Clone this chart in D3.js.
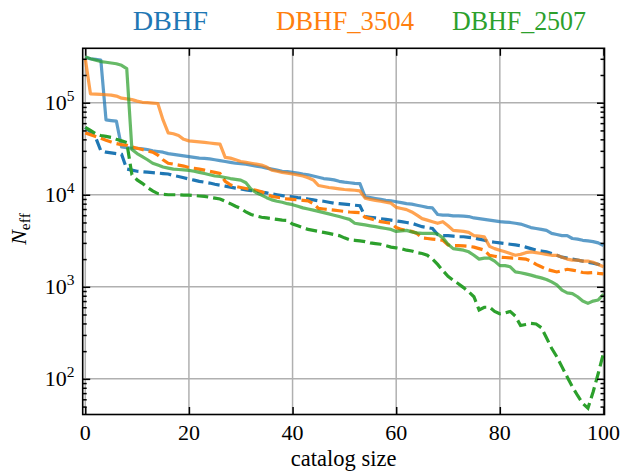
<!DOCTYPE html>
<html><head><meta charset="utf-8">
<script src="https://cdn.jsdelivr.net/npm/d3@7"></script>
<style>body{margin:0;background:#fff} svg{display:block} svg text{font-family:"Liberation Serif", monospace;}</style>
</head><body>
<svg id="c" width="621" height="473"></svg>
<script>
// ---- data ----
const catalogSize = d3.range(0, 101);
const seriesNames = ["DBHF", "DBHF_3504", "DBHF_2507"];
const seriesColors = ["#1f77b4", "#ff7f0e", "#2ca02c"];

const dbhfSolid = [310000,300000,295000,290000,65000,64000,63000,33000,32500,32000,
 32000,31500,31000,30000,29500,29000,28000,27500,27000,26500,
 26000,25500,25000,24800,24500,24000,23500,23000,22500,22000,
 21800,21500,21000,20500,20000,19500,19000,18500,18000,17800,
 17500,17200,16800,16500,16000,15500,15000,14800,14500,14000,
 13700,13500,13300,13200,9500,9300,9100,8900,8700,8600,
 8400,8200,8000,7900,7700,7500,7300,7200,6100,6000,
 6000,5900,5900,5850,5800,5600,5500,5400,5300,5200,
 5100,5050,5000,4900,4800,4600,4400,4300,4200,4100,
 3800,3700,3600,3600,3350,3300,3200,3150,3100,3000,2800];
const dbhfDashed = [54000,48000,42000,30000,29000,28500,28000,27500,19000,18500,
 18000,17800,17600,17400,17200,17000,16800,16200,15800,15300,
 14800,14400,14000,13700,13400,13000,12700,12400,12100,11800,
 11600,11300,11100,10900,10700,10500,10200,10000,9800,9600,
 9500,9300,9200,9000,8800,8600,8500,8300,8100,8000,
 7900,7800,7700,7600,5800,5700,5600,5500,5400,5300,
 5200,5100,5000,4900,4700,4500,4400,4300,3700,3600,
 3600,3550,3500,3500,3450,3400,3300,3200,3100,3050,
 3000,2950,2900,2850,2800,2700,2600,2500,2450,2400,
 2300,2200,2100,2050,2000,1950,1900,1850,1800,1750,1700];
const dbhf3504Solid = [300000,125000,124000,123000,122000,121000,118000,112000,110000,108000,
 104000,101000,100000,99000,98000,65000,47000,46000,44000,40000,
 38500,38000,37500,37000,36500,36000,35500,25500,25000,24000,
 23000,22500,22000,21500,21000,20000,18500,18000,17500,17200,
 16800,16400,16000,15300,14500,12600,12300,12000,11800,11600,
 11400,11300,11200,11000,9200,8900,8700,8500,8300,8100,
 7300,7100,6900,6500,6000,5500,5300,5100,4900,5100,
 4600,4100,4050,4000,3900,3600,3550,3500,2750,2600,
 2500,2400,2300,2200,2250,2350,2400,2350,2300,2250,
 2200,2200,2100,2000,1950,1950,1900,1900,1850,1750,1650];
const dbhf3504Dashed = [47000,45000,43000,41000,39000,37500,36000,35000,34500,33000,
 32000,31000,30000,29000,27000,24000,22000,21500,21000,20500,
 19800,19400,19000,18500,18000,17500,17000,14000,12800,12300,
 12000,11700,11400,11200,10800,10200,9600,9400,9200,9000,
 8900,8800,8700,8600,8000,7100,7000,6900,6800,6700,
 6600,6500,6450,6400,5700,5500,5300,5100,5000,4900,
 4400,4200,4100,4000,3800,3400,3350,3300,3250,3200,
 2850,2800,2800,2780,2750,2700,2600,2500,2200,2150,
 2100,2080,2060,2040,2020,2000,1900,1750,1650,1550,
 1500,1450,1500,1550,1520,1480,1430,1420,1430,1400,1380];
const dbhf2507Solid = [315000,300000,290000,280000,275000,270000,265000,255000,235000,31000,
 28000,26000,24000,22000,21000,20000,19500,19000,18800,18600,
 18400,18000,17500,17000,16500,16000,15800,15400,15000,14700,
 14400,13500,11500,10500,9900,9300,8800,8500,8300,8000,
 7800,7500,7200,7000,6800,6600,6400,6200,6000,5800,
 5600,5400,4900,4800,4700,4600,4500,4400,4300,4200,
 4000,4050,4100,3950,3850,3800,3800,3800,3750,3400,
 2900,2600,2550,2500,2400,2200,2000,2050,2050,1900,
 1700,1700,1650,1450,1420,1380,1340,1290,1250,1200,
 1130,1050,920,860,845,780,700,660,700,720,830];
const dbhf2507Dashed = [54000,50000,46000,44000,43000,42000,40000,38500,37000,16500,
 14500,13300,12000,11000,10300,10100,10000,10000,10000,9900,
 9900,9800,9700,9600,9400,9200,9000,8500,8000,7500,
 7100,6500,6100,5900,5700,5600,5500,5400,5300,5250,
 4800,4600,4400,4200,4100,4000,3900,3800,3700,3600,
 3400,3250,3200,3150,3100,3000,2950,2900,2800,2700,
 2650,2600,2500,2450,2350,2300,2200,2000,1750,1500,
 1300,1180,1080,980,880,780,560,600,600,540,
 510,520,540,480,380,390,400,395,360,280,
 215,174,135,105,82,66,54,48,72,115,190];

const solidSeries = [dbhfSolid, dbhf3504Solid, dbhf2507Solid];
const dashedSeries = [dbhfDashed, dbhf3504Dashed, dbhf2507Dashed];

const xTicks = [0, 20, 40, 60, 80, 100];
const yTicks = [1e2, 1e3, 1e4, 1e5];
const yTickExp = ["2", "3", "4", "5"];

// ---- layout ----
const L = 82.7, R = 604.5, T = 48.3, B = 414.5;
const svg = d3.select("#c");
const font = '"Liberation Serif", monospace';

const x = d3.scaleLinear().domain([-0.5, 100.2]).range([L, R]);
const y = d3.scaleLog().domain([41, 3.9e5]).range([B, T]);

// grid
const grid = svg.append("g").attr("stroke", "#b0b0b0").attr("stroke-width", 1.5);
xTicks.forEach(t => grid.append("line").attr("x1", x(t)).attr("x2", x(t)).attr("y1", T).attr("y2", B));
yTicks.forEach(t => grid.append("line").attr("x1", L).attr("x2", R).attr("y1", y(t)).attr("y2", y(t)));

// clip
svg.append("clipPath").attr("id", "clip").append("rect")
  .attr("x", L).attr("y", T).attr("width", R - L).attr("height", B - T);

const line = d3.line().x((d, i) => x(catalogSize[i])).y(d => y(d));
const lines = svg.append("g").attr("clip-path", "url(#clip)");
seriesNames.forEach((name, k) => {
  lines.append("path").attr("d", line(solidSeries[k]))
    .attr("fill", "none").attr("stroke", seriesColors[k]).attr("stroke-opacity", 0.72)
    .attr("stroke-width", 3.2).attr("stroke-linejoin", "round");
  lines.append("path").attr("d", line(dashedSeries[k]))
    .attr("fill", "none").attr("stroke", seriesColors[k])
    .attr("stroke-width", 3.2).attr("stroke-dasharray", "11.5,5");
});

// axes via d3 axis generators (inward ticks)
const xb = d3.axisBottom(x).tickValues(xTicks).tickSizeInner(-7.5).tickSizeOuter(0).tickFormat("");
const xt = d3.axisTop(x).tickValues(xTicks).tickSizeInner(-7.5).tickSizeOuter(0).tickFormat("");
svg.append("g").attr("transform", `translate(0,${B})`).call(xb);
svg.append("g").attr("transform", `translate(0,${T})`).call(xt);

const minor = [];
for (let e = 1; e <= 5; e++) for (let m = 2; m <= 9; m++) { const v = m * Math.pow(10, e); if (v >= 41 && v <= 3.9e5) minor.push(v); }
const yl = d3.axisLeft(y).tickValues(yTicks).tickSizeInner(-7.5).tickSizeOuter(0).tickFormat("");
const yr = d3.axisRight(y).tickValues(yTicks).tickSizeInner(-7.5).tickSizeOuter(0).tickFormat("");
const ylm = d3.axisLeft(y).tickValues(minor).tickSizeInner(-4).tickSizeOuter(0).tickFormat("");
const yrm = d3.axisRight(y).tickValues(minor).tickSizeInner(-4).tickSizeOuter(0).tickFormat("");
svg.append("g").attr("transform", `translate(${L},0)`).call(yl);
svg.append("g").attr("transform", `translate(${R},0)`).call(yr);
svg.append("g").attr("transform", `translate(${L},0)`).call(ylm);
svg.append("g").attr("transform", `translate(${R},0)`).call(yrm);
svg.selectAll(".domain").remove();
svg.selectAll(".tick line").attr("stroke", "#000").attr("stroke-width", 1.5);

// frame
svg.append("rect").attr("x", L).attr("y", T).attr("width", R - L).attr("height", B - T)
  .attr("fill", "none").attr("stroke", "#000").attr("stroke-width", 1.6);

// text layer
const tl = svg.append("g").attr("font-family", font);

// tick labels
xTicks.forEach(t => tl.append("text").attr("x", x(t)).attr("y", 439.5)
  .attr("text-anchor", "middle").attr("font-size", 22).text(t));
yTicks.forEach((t, i) => {
  const tx = tl.append("text").attr("x", 74.5).attr("y", y(t) + 7.5)
    .attr("text-anchor", "end").attr("font-size", 22);
  tx.append("tspan").text("10");
  tx.append("tspan").attr("dy", -9).attr("font-size", 15.5).text(yTickExp[i]);
});

// axis labels
tl.append("text").attr("x", (L + R) / 2).attr("y", 466).attr("text-anchor", "middle")
  .attr("font-size", 22.5).text("catalog size");
const ylab = tl.append("text").attr("transform", "translate(26,229) rotate(-90)")
  .attr("text-anchor", "middle").attr("font-size", 22);
ylab.append("tspan").attr("font-style", "italic").text("N");
ylab.append("tspan").attr("dy", 4).attr("font-size", 15.5).text("eff");

// legend
const legX = [132.7, 276, 452], legW = [75.3, 138, 134];
seriesNames.forEach((name, k) => {
  tl.append("text").attr("x", legX[k]).attr("y", 30).attr("font-size", 27.5)
    .attr("fill", seriesColors[k]).attr("textLength", legW[k]).attr("lengthAdjust", "spacingAndGlyphs")
    .text(name);
});
</script>
</body></html>
